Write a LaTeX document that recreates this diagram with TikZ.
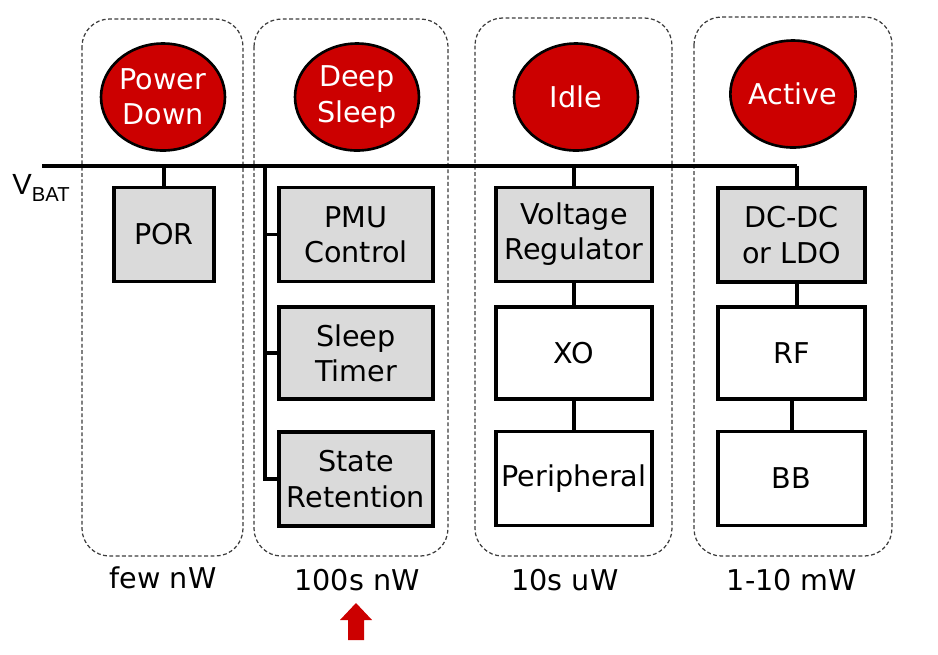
\documentclass[tikz,border=0pt]{standalone}
\usepackage{fontspec}
\setmainfont{DejaVu Sans}
\newfontfamily\arialfont{Liberation Sans}
\usepackage{tikz}
\usetikzlibrary{shapes,arrows}

\definecolor{statered}{RGB}{204,0,0}
\definecolor{blockgray}{RGB}{218,218,218}
\definecolor{framegray}{RGB}{60,60,60}

\tikzset{
  state/.style={ellipse, draw=black, line width=1.5pt, fill=statered, text=white,
    minimum width=2.48cm, minimum height=2.14cm, inner sep=0pt, align=center},
  block/.style={rectangle, draw=black, line width=2pt, fill=white, inner sep=0pt,
    align=center, minimum height=1.88cm},
  onblock/.style={block, fill=blockgray},
  wire/.style={line width=2.1pt},
  bus/.style={line width=2.8pt},
  frame/.style={draw=framegray, line width=0.7pt, dash pattern=on 2.2pt off 1.4pt,
    rounded corners=0.55cm},
}

\begin{document}
\begin{tikzpicture}[x=0.02cm, y=-0.02cm, font=\fontsize{16.3}{20}\selectfont]
  \useasboundingbox (0,0) rectangle (938,654);

  % mode frames
  \draw[frame] (82,19) rectangle (243,556);
  \draw[frame] (254,19) rectangle (448,556);
  \draw[frame] (475,18) rectangle (672,556);
  \draw[frame] (694,17) rectangle (892,556);

  % states
  \node[state] (pd) at (163,97) {Power\\Down};
  \node[state] (ds) at (357,97) {Deep\\Sleep};
  \node[state] (idle) at (576,97) {Idle};
  \node[state] (active) at (793,94) {Active};

  % blocks
  \node[onblock, minimum width=2cm] (por) at (164,234.5) {POR};
  \node[onblock, minimum width=3.08cm] (pmu) at (356,234.5) {PMU\\Control};
  \node[onblock, minimum width=3.08cm, minimum height=1.84cm] (timer) at (356,353) {Sleep\\Timer};
  \node[onblock, minimum width=3.08cm] (retain) at (356,479) {State\\Retention};
  \node[onblock, minimum width=3.12cm] (vreg) at (574,234.5) {Voltage\\Regulator};
  \node[block, minimum width=3.12cm, minimum height=1.84cm] (xo) at (574,353) {XO};
  \node[block, minimum width=3.12cm] (periph) at (574,478.5) {Peripheral};
  \node[onblock, minimum width=2.94cm] (dcdc) at (791.5,235) {DC-DC\\or LDO};
  \node[block, minimum width=2.94cm, minimum height=1.84cm] (rf) at (791.5,353) {RF};
  \node[block, minimum width=2.94cm] (bb) at (791.5,478.5) {BB};

  % supply rail
  \coordinate (vstart) at (42,166);
  \coordinate (vend) at (797,166);
  \coordinate (tap) at (265,166);
  \node[anchor=base west, inner sep=0pt] (vbat) at (12,194)
    {\arialfont\fontsize{16.6}{18}\selectfont V\raisebox{-4.5pt}{\fontsize{11.5}{13}\selectfont BAT}};

  \draw[bus] (vstart) -- (vend);
  \draw[wire] (vend) -- (vend |- dcdc.north);
  \draw[wire] (por.north |- vstart) -- (por.north);
  \draw[wire] (vreg.north |- vstart) -- (vreg.north);
  \draw[wire] (tap) -- (tap |- retain.west) -- (retain.west);
  \draw[wire] (tap |- pmu.west) -- (pmu.west);
  \draw[wire] (tap |- timer.west) -- (timer.west);
  \draw[wire] (vreg) -- (xo);
  \draw[wire] (xo) -- (periph);
  \draw[wire] (dcdc.south -| vend) -- (rf.north -| vend);
  \draw[wire] (rf.south -| 792,0) -- (bb.north -| 792,0);

  % labels
  \node (pdw) at (163,578) {few nW};
  \node (dsw) at (357,580) {100s nW};
  \node (idlew) at (565,580) {10s uW};
  \node (activew) at (792,580) {1-10 mW};

  % marker
  \coordinate (pick) at (356,620);
  \fill[statered] (340,620) -- (356,603) -- (372,620) -- (364,620)
    -- (364,640) -- (348,640) -- (348,620) -- cycle;
\end{tikzpicture}
\end{document}
